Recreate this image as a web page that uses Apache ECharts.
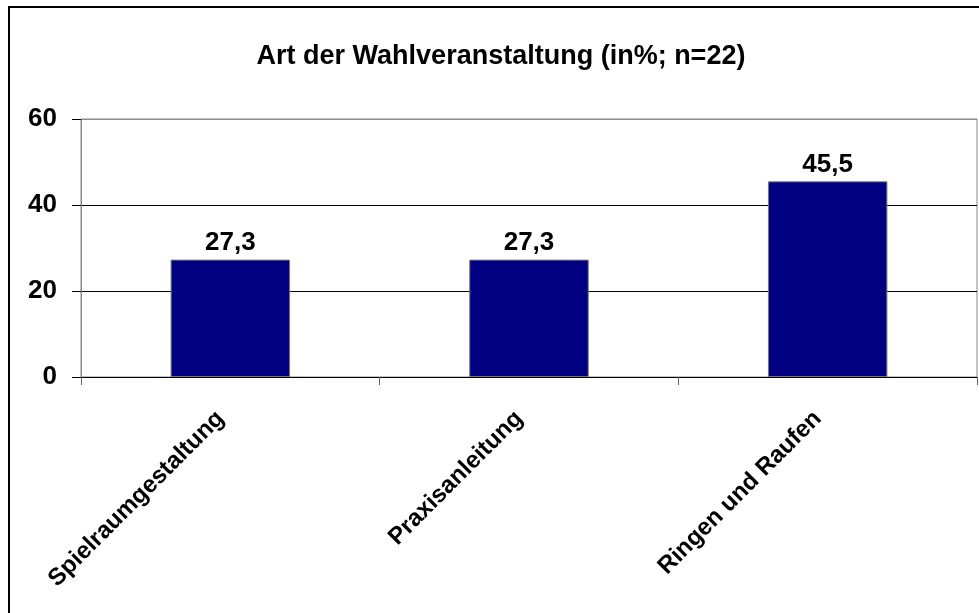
<!DOCTYPE html>
<html><head><meta charset="utf-8">
<script src="https://cdn.jsdelivr.net/npm/echarts@6/dist/echarts.min.js"></script>
<style>html,body{margin:0;padding:0;background:#fff}#c{width:979px;height:613px}</style>
</head><body><div id="c"></div>
<script>
const categories = ['Spielraumgestaltung', 'Praxisanleitung', 'Ringen und Raufen'];
const values = [27.3, 27.3, 45.5];
const yTicks = [0, 20, 40, 60];
const titleText = 'Art der Wahlveranstaltung (in%; n=22)';

const chart = echarts.init(document.getElementById('c'), null, {renderer: 'canvas'});
chart.setOption({
  animation: false,
  backgroundColor: '#fff',
  title: {
    text: titleText, left: 496, top: 38, textAlign: 'center',
    textStyle: {fontFamily: 'Liberation Sans, Arial', fontWeight: 'bold', fontSize: 27, color: '#000'}
  },
  graphic: [{
    type: 'rect', shape: {x: 9, y: 7, width: 1000, height: 700},
    style: {fill: 'none', stroke: '#000', lineWidth: 2}, silent: true
  }],
  grid: {left: 81, right: 2, top: 119, bottom: 236, show: true, borderColor: '#888', borderWidth: 1},
  xAxis: {
    type: 'category', data: categories,
    axisLine: {lineStyle: {color: '#000', width: 1}},
    axisTick: {show: true, length: 8, lineStyle: {color: '#666'}},
    axisLabel: {rotate: 45, margin: 28, padding: [0, 14, 0, 0], fontFamily: 'Liberation Sans, Arial', fontWeight: 'bold', fontSize: 24, color: '#000'}
  },
  yAxis: {
    type: 'value', min: yTicks[0], max: yTicks[yTicks.length - 1], interval: 20,
    axisLine: {show: true, lineStyle: {color: '#888'}},
    axisTick: {show: true, length: 9, lineStyle: {color: '#000'}},
    axisLabel: {margin: 24, fontFamily: 'Liberation Sans, Arial', fontWeight: 'bold', fontSize: 26, color: '#000'},
    splitLine: {show: true, lineStyle: {color: ['#000', '#000', '#000', '#888'], width: 1}}
  },
  series: [{
    type: 'bar', data: values, barWidth: '40%',
    itemStyle: {color: '#000080', borderColor: '#777', borderWidth: 1},
    label: {
      show: true, position: 'top', distance: 4,
      formatter: p => String(p.value).replace('.', ','),
      fontFamily: 'Liberation Sans, Arial', fontWeight: 'bold', fontSize: 26, color: '#000'
    }
  }]
});
</script></body></html>
